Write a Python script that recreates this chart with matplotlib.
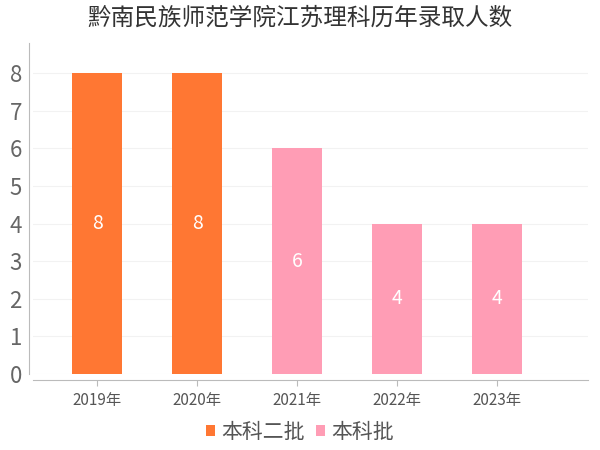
import matplotlib
matplotlib.use("Agg")
import matplotlib.pyplot as plt
import numpy as np

plt.rcParams['font.family'] = ['Noto Sans CJK SC', 'DejaVu Sans']

title = "黔南民族师范学院江苏理科历年录取人数"
years = ["2019年", "2020年", "2021年", "2022年", "2023年"]
series_names = ["本科二批", "本科批"]
series1_values = [8, 8, None, None, None]
series2_values = [None, None, 6, 4, 4]
colors = ["#ff7733", "#ff9db5"]

fig = plt.figure(figsize=(6, 4.5), dpi=100)
ax = fig.add_axes([33/600, 1-374/450, (588-33)/600, (374-43)/450])

x = np.arange(len(years))
for vals, name, col in zip([series1_values, series2_values], series_names, colors):
    xs = [xi for xi, v in zip(x, vals) if v is not None]
    vs = [v for v in vals if v is not None]
    bars = ax.bar(xs, vs, width=0.5, color=col, label=name, zorder=3)
    for b, v in zip(bars, vs):
        ax.text(b.get_x() + b.get_width()/2, v/2, str(v), ha='center', va='center',
                color='white', fontsize=14, zorder=4)

ax.set_xlim(-0.64, 4.91)
ax.set_ylim(0, 8.8)
ax.set_yticks(range(0, 9))
ax.set_xticks(x)
ax.set_xticklabels(years)
ax.tick_params(axis='y', length=0, labelsize=16, labelcolor='#666666', pad=5)
ax.tick_params(axis='x', length=4, color='#bbbbbb', labelsize=11, labelcolor='#555555', pad=5, direction='out')
ax.grid(axis='y', color='#f2f2f2', linewidth=0.8, zorder=0)
for s in ['top', 'right']:
    ax.spines[s].set_visible(False)
ax.spines['left'].set_color('#bbbbbb')
ax.spines['bottom'].set_color('#bbbbbb')
ax.spines['left'].set_position(('outward', 3))
ax.spines['bottom'].set_position(('outward', 4))

fig.text(0.5, 1-18/450, title, ha='center', va='center', fontsize=17, color='#333333')

handles, labels = ax.get_legend_handles_labels()
leg = fig.legend(handles, labels, loc='center', bbox_to_anchor=(0.5, 1-432/450), ncol=2,
                 frameon=False, fontsize=15, handlelength=0.45, handleheight=0.45,
                 handletextpad=0.3, columnspacing=0.5, labelcolor='#555555')

fig.savefig("out.png", dpi=100)
